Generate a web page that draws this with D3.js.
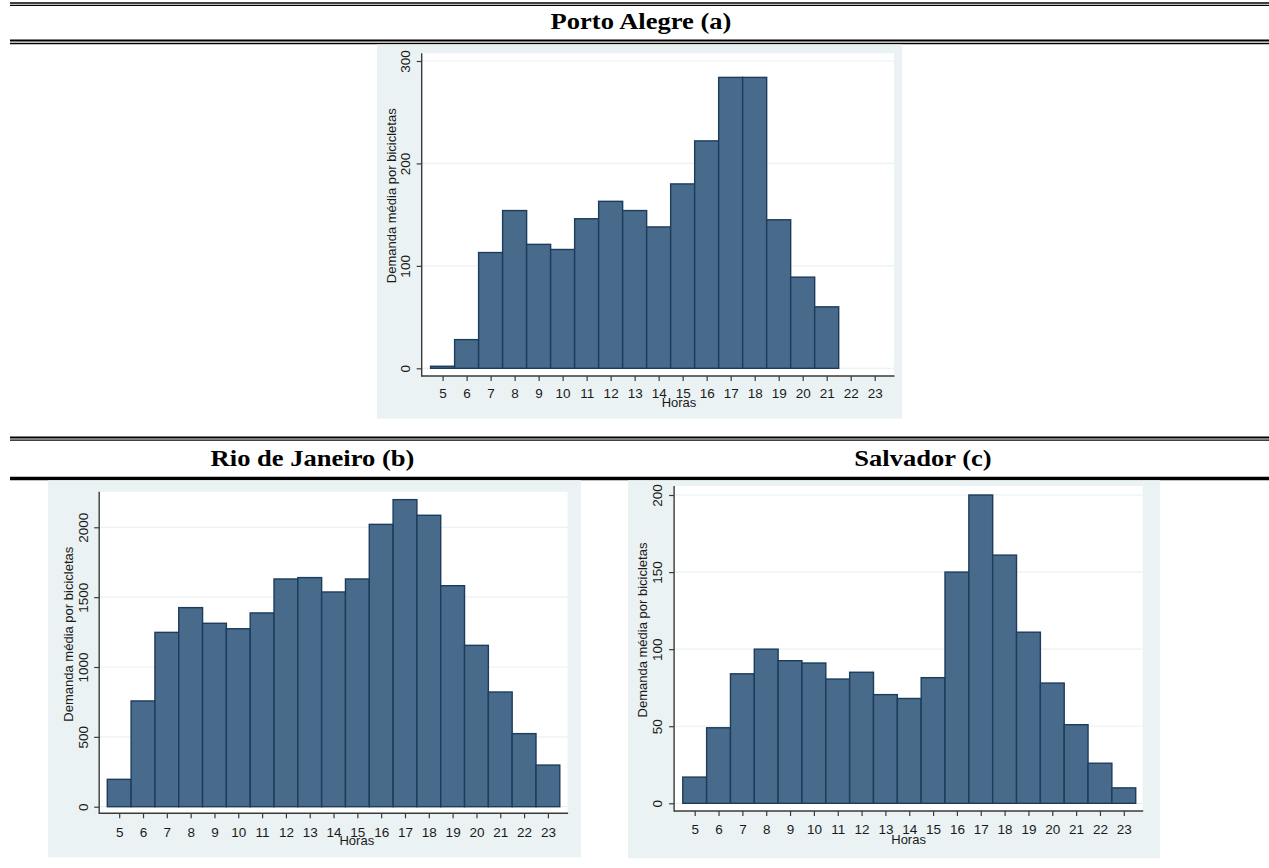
<!DOCTYPE html>
<html>
<head>
<meta charset="utf-8">
<script src="https://cdn.jsdelivr.net/npm/d3@7"></script>
<style>
  body { margin: 0; background: #fff; }
  svg { display: block; }
</style>
</head>
<body>
<div id="chart"></div>
<script>
// Hours on the x axis
const hours = [5, 6, 7, 8, 9, 10, 11, 12, 13, 14, 15, 16, 17, 18, 19, 20, 21, 22, 23];

// Mean demand per hour
const portoAlegre = [2, 28, 113, 154, 121, 116, 146, 163, 154, 138, 180, 222, 284, 284, 145, 89, 60, 0, 0];
const rioDeJaneiro = [196, 757, 1248, 1425, 1313, 1274, 1387, 1630, 1640, 1537, 1630, 2021, 2198, 2086, 1582, 1155, 821, 523, 298];
const salvador = [17, 49, 84, 100, 92.5, 91, 80.6, 85, 70.5, 68, 81.5, 150, 200, 161, 111, 78, 51, 26, 10];

// Y tick labels
const portoTicks = [0, 100, 200, 300];
const rioTicks = [0, 500, 1000, 1500, 2000];
const salvadorTicks = [0, 50, 100, 150, 200];

const titles = ["Porto Alegre (a)", "Rio de Janeiro (b)", "Salvador (c)"];
const yTitle = "Demanda média por bicicletas";
const xTitle = "Horas";

const svg = d3.select("#chart").append("svg")
    .attr("width", 1269)
    .attr("height", 868);

const panelColor = "#eaf2f3";
const barFill = "#486a8b";
const barStroke = "#1d3c5c";

// Horizontal rules of the table
function rule(y, w) {
    svg.append("line")
        .attr("x1", 10).attr("x2", 1269)
        .attr("y1", y).attr("y2", y)
        .attr("stroke", "#000")
        .attr("stroke-width", w);
}
rule(3, 1.4);
rule(5.4, 1.4);
rule(40.5, 1.8);
rule(43.5, 1.4);
rule(437.5, 1.8);
rule(440.1, 1.4);
rule(478.5, 3.5);

// Section titles (serif, a bit stretched like in the source)
function sectionTitle(text, cx, baseline) {
    const t = svg.append("text")
        .attr("x", cx)
        .attr("y", baseline)
        .attr("text-anchor", "middle")
        .style("font-family", "'Liberation Serif', 'Times New Roman', serif")
        .style("font-weight", "bold")
        .style("font-size", "23.5px")
        .text(text);
    const len = t.node().getComputedTextLength();
    t.attr("textLength", len * 1.13).attr("lengthAdjust", "spacingAndGlyphs");
}
sectionTitle(titles[0], 641, 28.5);
sectionTitle(titles[1], 312.5, 465.5);
sectionTitle(titles[2], 923, 465.5);

function drawChart(values, ticks, L) {
    const g = svg.append("g");

    // Graph region
    g.append("rect")
        .attr("x", L.panel[0]).attr("y", L.panel[1])
        .attr("width", L.panel[2]).attr("height", L.panel[3])
        .attr("fill", panelColor);

    // Plot region
    g.append("rect")
        .attr("x", L.axisX).attr("y", L.plotTop)
        .attr("width", L.plotRight - L.axisX).attr("height", L.axisY - L.plotTop)
        .attr("fill", "#fff");

    const x = d3.scaleLinear()
        .domain([hours[0], hours[hours.length - 1]])
        .range([L.x5, L.x23]);

    const y = d3.scaleLinear()
        .domain([0, ticks[ticks.length - 1]])
        .range([L.y0, L.yTop]);

    // Grid lines
    g.selectAll(".grid")
        .data(ticks)
        .enter().append("line")
        .attr("x1", L.axisX).attr("x2", L.plotRight)
        .attr("y1", d => y(d)).attr("y2", d => y(d))
        .attr("stroke", panelColor)
        .attr("stroke-width", 1.2);

    const data = hours.map((h, i) => ({ hour: h, value: values[i] }))
        .filter(d => d.value > 0);

    // Bars
    g.selectAll(".bar")
        .data(data)
        .enter().append("rect")
        .attr("x", d => x(d.hour - 0.5))
        .attr("width", d => x(d.hour + 0.5) - x(d.hour - 0.5))
        .attr("y", d => y(d.value))
        .attr("height", d => y(0) - y(d.value))
        .attr("fill", barFill)
        .attr("stroke", barStroke)
        .attr("stroke-width", 1.4);

    // X axis
    const xAxis = g.append("g")
        .attr("transform", `translate(0,${L.axisY})`)
        .call(d3.axisBottom(x).tickValues(hours).tickFormat(d3.format("d")).tickSize(5).tickSizeOuter(0));
    xAxis.select(".domain").remove();
    xAxis.append("line")
        .attr("x1", L.axisX).attr("x2", L.plotRight + 0.5)
        .attr("stroke", "#3a3a3a").attr("stroke-width", 1.4);
    xAxis.selectAll(".tick line").attr("stroke", "#3a3a3a").attr("stroke-width", 1.2);
    xAxis.selectAll(".tick text")
        .attr("y", L.xLabelBase - L.axisY)
        .attr("dy", null)
        .style("font-family", "'Liberation Sans', Arial, sans-serif")
        .style("font-size", "13.5px")
        .attr("fill", "#1a1a1a");

    // Y axis
    const yAxis = g.append("g")
        .attr("transform", `translate(${L.axisX},0)`)
        .call(d3.axisLeft(y).tickValues(ticks).tickFormat(d3.format("d")).tickSize(5).tickSizeOuter(0));
    yAxis.select(".domain").remove();
    yAxis.append("line")
        .attr("y1", L.plotTop).attr("y2", L.axisY + 0.7)
        .attr("stroke", "#3a3a3a").attr("stroke-width", 1.4);
    yAxis.selectAll(".tick line").attr("stroke", "#3a3a3a").attr("stroke-width", 1.2);
    yAxis.selectAll(".tick text")
        .attr("x", null).attr("dy", null)
        .attr("text-anchor", "middle")
        .attr("transform", `translate(${L.yLabelBase - L.axisX},0) rotate(-90)`)
        .style("font-family", "'Liberation Sans', Arial, sans-serif")
        .style("font-size", "13.5px")
        .attr("fill", "#1a1a1a");

    // Axis titles
    g.append("text")
        .attr("x", L.xTitle[0]).attr("y", L.xTitle[1])
        .attr("text-anchor", "middle")
        .style("font-family", "'Liberation Sans', Arial, sans-serif")
        .style("font-size", "13px")
        .attr("fill", "#1a1a1a")
        .text(xTitle);

    g.append("text")
        .attr("transform", `translate(${L.yTitle[0]},${L.yTitle[1]}) rotate(-90)`)
        .attr("text-anchor", "middle")
        .style("font-family", "'Liberation Sans', Arial, sans-serif")
        .style("font-size", "13px")
        .attr("fill", "#1a1a1a")
        .text(yTitle);
}

drawChart(portoAlegre, portoTicks, {
    panel: [377, 44.5, 525, 374],
    axisX: 421.7, plotRight: 894, plotTop: 53.3, axisY: 376,
    y0: 368.3, yTop: 61, x5: 442.6, x23: 874.7,
    xLabelBase: 397.7, yLabelBase: 410,
    xTitle: [679, 406.7], yTitle: [396.3, 195.8]
});

drawChart(rioDeJaneiro, rioTicks, {
    panel: [48, 480.3, 533, 377],
    axisX: 99.2, plotRight: 567.6, plotTop: 491.7, axisY: 813.3,
    y0: 806.7, yTop: 527.3, x5: 119.2, x23: 547.9,
    xLabelBase: 836.7, yLabelBase: 88.2,
    xTitle: [356.8, 845], yTitle: [72.9, 634.2]
});

drawChart(salvador, salvadorTicks, {
    panel: [628, 480.3, 532, 378],
    axisX: 674.1, plotRight: 1142.7, plotTop: 486, axisY: 811,
    y0: 803.3, yTop: 495, x5: 694.7, x23: 1123.8,
    xLabelBase: 834, yLabelBase: 662,
    xTitle: [908.6, 844], yTitle: [647.4, 630]
});
</script>
</body>
</html>
